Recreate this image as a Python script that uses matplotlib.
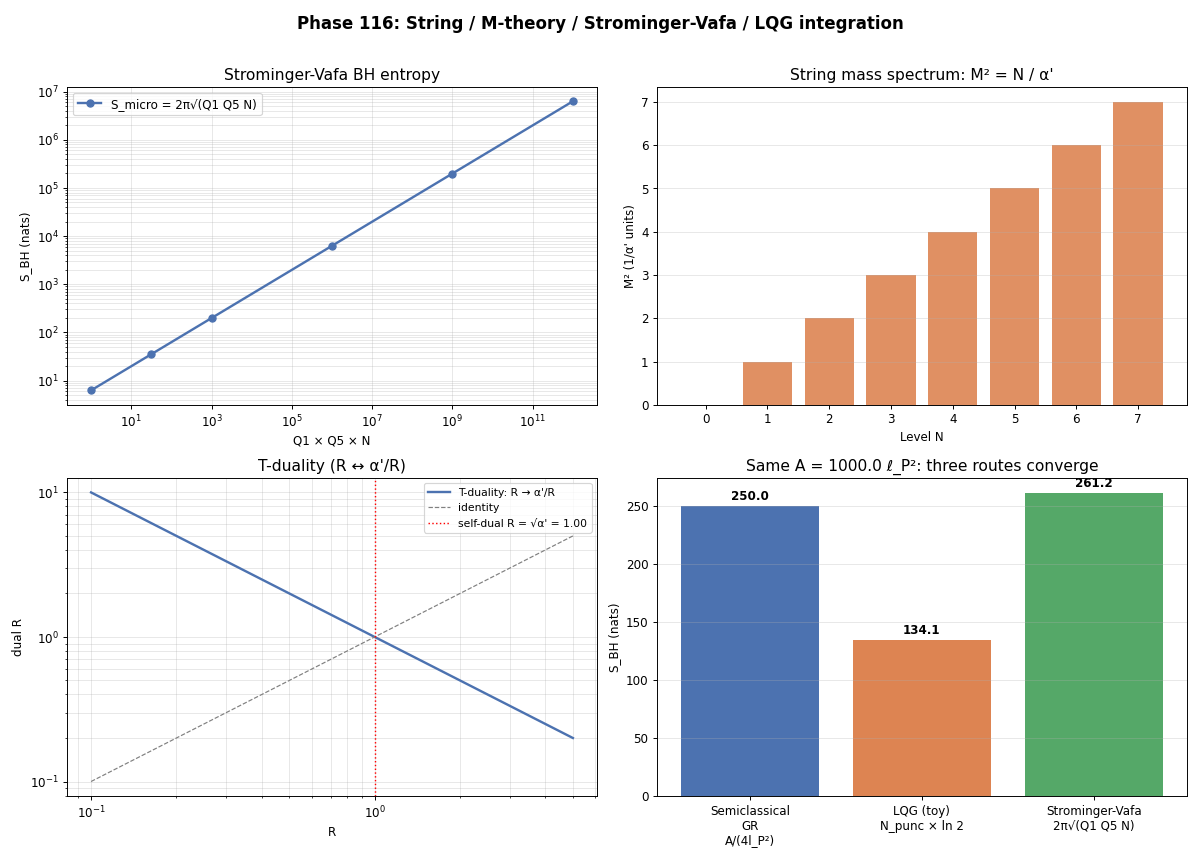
import matplotlib
matplotlib.use('Agg')
import matplotlib.pyplot as plt
import numpy as np

BLUE = '#4C72B0'
ORANGE = '#DD8452'
GREEN = '#55A868'

# Strominger-Vafa entropy vs charge product
charge_product = [1, 31.6, 1e3, 1e6, 1e9, 1e12]
s_micro = [6.28, 35.3, 198.7, 6283.2, 198691.8, 6283185.3]

# String mass spectrum
levels = [0, 1, 2, 3, 4, 5, 6, 7]
mass_sq = [0, 1, 2, 3, 4, 5, 6, 7]

# T-duality
radius = [0.1, 0.2, 0.5, 1.0, 2.0, 5.0]
dual_radius = [10.0, 5.0, 2.0, 1.0, 0.5, 0.2]
self_dual = 1.00

# three routes to the same entropy
route_labels = ['Semiclassical\nGR\nA/(4l_P²)', 'LQG (toy)\nN_punc × ln 2', 'Strominger-Vafa\n2π√(Q1 Q5 N)']
route_values = [250.0, 134.1, 261.2]
area = 1000.0

fig, axes = plt.subplots(2, 2, figsize=(14, 10), dpi=85.72)
fig.suptitle('Phase 116: String / M-theory / Strominger-Vafa / LQG integration',
             fontsize=14, fontweight='bold', y=0.983)
fig.subplots_adjust(left=0.0558, right=0.989, top=0.8985, bottom=0.0712,
                    hspace=0.23, wspace=0.113)

ax = axes[0, 0]
ax.loglog(charge_product, s_micro, 'o-', color=BLUE, linewidth=2, markersize=6,
          label='S_micro = 2π√(Q1 Q5 N)')
ax.set_title('Strominger-Vafa BH entropy', fontsize=13)
ax.set_xlabel('Q1 × Q5 × N')
ax.set_ylabel('S_BH (nats)')
ax.legend(loc='upper left')
ax.grid(True, which='both', alpha=0.3)

ax = axes[0, 1]
ax.bar(levels, mass_sq, color=ORANGE, alpha=0.9)
ax.set_title("String mass spectrum: M² = N / α'", fontsize=13)
ax.set_xlabel('Level N')
ax.set_ylabel("M² (1/α' units)")
ax.set_xticks(levels)
ax.grid(True, axis='y', alpha=0.3)

ax = axes[1, 0]
ax.loglog(radius, dual_radius, '-', color=BLUE, linewidth=2, label="T-duality: R → α'/R")
ax.loglog(radius, radius, '--', color='gray', linewidth=1, label='identity')
ax.axvline(self_dual, color='red', linestyle=':', linewidth=1.2,
           label=f"self-dual R = √α' = {self_dual:.2f}")
ax.set_title("T-duality (R ↔ α'/R)", fontsize=13)
ax.set_xlabel('R')
ax.set_ylabel('dual R')
ax.legend(loc='upper right', fontsize=9)
ax.grid(True, which='both', alpha=0.3)

ax = axes[1, 1]
bars = ax.bar(route_labels, route_values, color=[BLUE, ORANGE, GREEN])
for b, v in zip(bars, route_values):
    ax.text(b.get_x() + b.get_width() / 2, v + 3, f'{v:.1f}', ha='center',
            va='bottom', fontweight='bold')
ax.set_title(f'Same A = {area:.1f} ℓ_P²: three routes converge', fontsize=13)
ax.set_ylabel('S_BH (nats)')
ax.grid(True, axis='y', alpha=0.3)

plt.savefig('out.png')
